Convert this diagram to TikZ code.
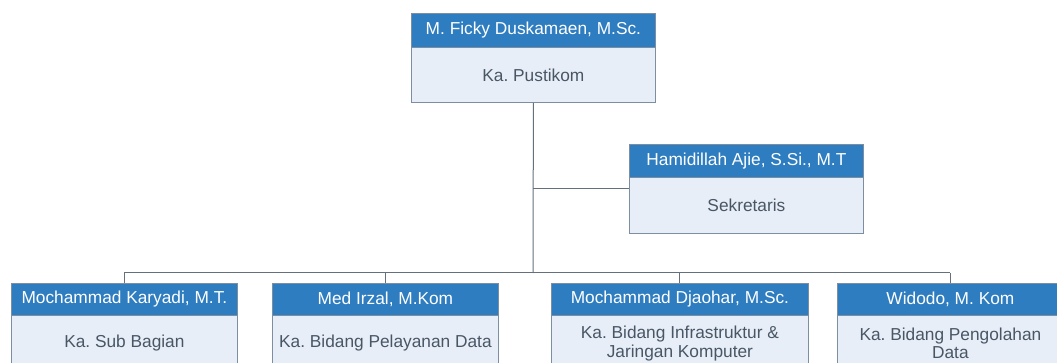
\documentclass[tikz,border=0pt]{standalone}
\usepackage{fontspec}
\setmainfont{Liberation Sans}
\frenchspacing
\definecolor{hblue}{RGB}{46,125,192}
\definecolor{bfill}{RGB}{231,238,247}
\definecolor{bord}{RGB}{125,142,160}
\definecolor{btext}{RGB}{72,86,102}
\definecolor{lcol}{RGB}{100,112,124}
\begin{document}
\begin{tikzpicture}[x=1pt,y=-1pt,
  hdr/.style={rectangle, fill=hblue, draw=bord, line width=0.8pt, text=white, inner sep=0pt, anchor=north west,
    font=\fontsize{17.3}{19}\selectfont\frenchspacing},
  bdy/.style={rectangle, fill=bfill, draw=bord, line width=0.8pt, text=btext, inner sep=0pt, anchor=north west,
    align=center, font=\fontsize{17.3}{18.5}\selectfont\frenchspacing},
  conn/.style={draw=lcol, line width=1pt}]
\useasboundingbox (0,0) rectangle (1057,363);
\clip (0,0) rectangle (1057,363);
% top
\node[bdy, minimum width=244pt, minimum height=55pt] (b0) at (411,47) {Ka. Pustikom};
\node[hdr, minimum width=244pt, minimum height=34pt] (h0) at (411,13) {M. Ficky Duskamaen, M.Sc.};
% sekretaris
\node[bdy, minimum width=234pt, minimum height=56pt] (b5) at (629,177) {Sekretaris};
\node[hdr, minimum width=234pt, minimum height=33pt] (h5) at (629,144) {Hamidillah Ajie, S.Si., M.T};
% bottom row
\node[bdy, minimum width=226pt, minimum height=56pt] (b1) at (11,315) {Ka. Sub Bagian};
\node[hdr, minimum width=226pt, minimum height=32pt] (h1) at (11,283) {Mochammad Karyadi, M.T.};
\node[bdy, minimum width=226pt, minimum height=56pt] (b2) at (272,315) {Ka. Bidang Pelayanan Data};
\node[hdr, minimum width=226pt, minimum height=32pt] (h2) at (272,283) {Med Irzal, M.Kom};
\node[bdy, minimum width=257pt, minimum height=56pt] (b3) at (551,315) {Ka. Bidang Infrastruktur \&\\Jaringan Komputer};
\node[hdr, minimum width=257pt, minimum height=32pt] (h3) at (551,283) {Mochammad Djaohar, M.Sc.};
\node[bdy, minimum width=226pt, minimum height=56pt] (b4) at (837,315) {Ka. Bidang Pengolahan\\Data};
\node[hdr, minimum width=226pt, minimum height=32pt] (h4) at (837,283) {Widodo, M. Kom};
% connectors
\coordinate (bus) at (533,273);
\coordinate (sj) at (533,189);
\draw[conn] (b0.south) -- (bus);
\draw[conn] (sj) -- (sj -| b5.west);
\draw[conn] (bus -| h1.north) -- (bus -| h4.north);
\draw[conn] (bus -| h1.north) -- (h1.north);
\draw[conn] (bus -| h2.north) -- (h2.north);
\draw[conn] (bus -| h3.north) -- (h3.north);
\draw[conn] (bus -| h4.north) -- (h4.north);
\end{tikzpicture}
\end{document}
